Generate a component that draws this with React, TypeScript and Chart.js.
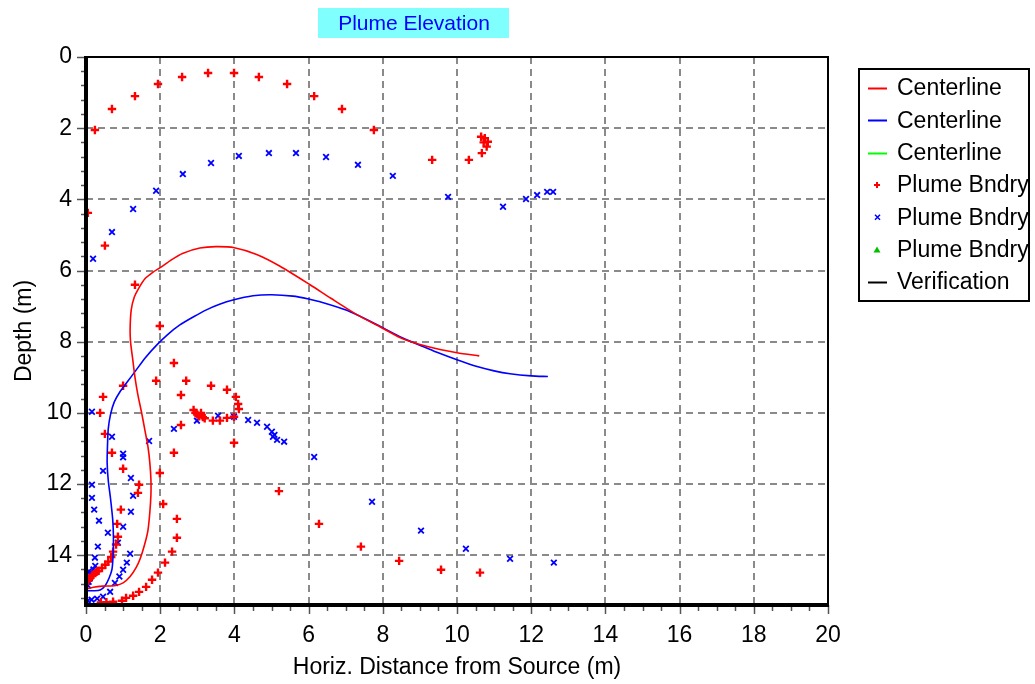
import React, { useEffect, useRef } from 'react';
import { Chart, registerables } from 'chart.js';

Chart.register(...registerables);

const FONT = "'Liberation Sans', Arial, sans-serif";

const chartTitle = 'Plume Elevation';
const xAxisTitle = 'Horiz. Distance from Source (m)';
const yAxisTitle = 'Depth (m)';

const xTickValues = [0, 2, 4, 6, 8, 10, 12, 14, 16, 18, 20];
const yTickValues = [0, 2, 4, 6, 8, 10, 12, 14];
const xRange = [0, 20];
const depthRange = [0, 15.4];

// Centerline 1 (red)
const redCenterX = [0.0, 0.2, 0.45, 0.8, 1.0, 1.19, 1.35, 1.46, 1.58, 1.67, 1.72, 1.75, 1.75, 1.72, 1.67, 1.59, 1.5, 1.4, 1.32, 1.26, 1.2, 1.19, 1.22, 1.3, 1.42, 1.6, 1.8, 2.0, 2.3, 2.6, 3.07, 3.5, 4.0, 4.6, 5.23, 6.04, 6.6, 7.3, 7.92, 8.46, 9.0, 9.54, 10.0, 10.6];
const redCenterY = [14.95, 14.9, 14.87, 14.85, 14.78, 14.6, 14.35, 14.1, 13.7, 13.3, 12.8, 12.3, 11.88, 11.4, 10.95, 10.5, 10.0, 9.5, 9.0, 8.5, 8.0, 7.6, 7.1, 6.75, 6.5, 6.22, 6.05, 5.92, 5.7, 5.52, 5.37, 5.33, 5.36, 5.55, 5.88, 6.4, 6.78, 7.24, 7.58, 7.88, 8.08, 8.22, 8.31, 8.4];

// Centerline 2 (blue)
const blueCenterX = [0.0, 0.2, 0.38, 0.52, 0.62, 0.7, 0.73, 0.74, 0.72, 0.66, 0.6, 0.57, 0.58, 0.6, 0.66, 0.76, 0.92, 1.1, 1.35, 1.6, 1.91, 2.2, 2.53, 2.9, 3.26, 3.6, 3.96, 4.5, 5.0, 5.58, 6.0, 6.31, 7.03, 7.74, 8.46, 9.0, 9.46, 10.0, 10.54, 11.0, 11.43, 12.0, 12.45];
const blueCenterY = [15.0, 15.0, 14.98, 14.85, 14.65, 14.4, 14.0, 13.5, 13.0, 12.4, 11.9, 11.4, 10.9, 10.45, 10.05, 9.7, 9.4, 9.15, 8.8, 8.45, 8.09, 7.8, 7.53, 7.3, 7.1, 6.95, 6.83, 6.71, 6.68, 6.72, 6.8, 6.88, 7.12, 7.47, 7.86, 8.1, 8.3, 8.51, 8.7, 8.82, 8.9, 8.96, 8.98];

// Plume boundary 1 (red +)
const redBndryX = [0.05, 0.24, 0.7, 1.32, 1.94, 2.59, 3.29, 3.99, 4.66, 5.42, 6.15, 6.9, 7.76, 9.33, 10.32, 10.67, 10.8, 10.83, 10.75, 10.65, 10.72,
  0.51, 1.32, 1.99, 2.37, 2.7, 1.89, 2.56, 1.0, 0.46, 0.38, 0.51, 3.37, 3.8, 4.04, 4.1, 4.12, 2.9, 2.95, 3.0, 3.05, 3.1, 3.15, 3.2, 3.42, 3.61, 3.8, 3.99, 2.56, 3.99,
  0.7, 2.37, 1.0, 1.99, 1.43, 1.4, 2.08, 0.94, 2.45, 0.84, 5.2, 6.28, 7.41, 8.44, 9.57, 10.62,
  2.45, 2.32, 2.13, 1.94, 1.78, 1.62, 1.43, 1.27, 1.08, 0.97, 0.73, 0.55, 0.4,
  0.86, 0.81, 0.73, 0.68, 0.6, 0.52, 0.43, 0.34, 0.25, 0.16, 0.1, 0.06, 0.3, 0.2];
const redBndryY = [4.38, 2.05, 1.46, 1.1, 0.76, 0.56, 0.45, 0.45, 0.56, 0.76, 1.1, 1.46, 2.05, 2.89, 2.89, 2.7, 2.52, 2.38, 2.28, 2.24, 2.4,
  5.3, 6.4, 7.56, 8.6, 9.1, 9.1, 9.5, 9.24, 9.55, 10.0, 10.59, 9.24, 9.35, 9.55, 9.75, 9.89, 9.92, 10.0, 10.05, 10.1, 10.0, 10.12, 10.15, 10.22, 10.22, 10.14, 10.11, 10.34, 10.84,
  11.12, 11.12, 11.57, 11.69, 12.02, 12.25, 12.56, 12.72, 12.98, 13.12, 12.2, 13.12, 13.76, 14.16, 14.41, 14.49,
  13.51, 13.9, 14.21, 14.49, 14.69, 14.89, 15.03, 15.14, 15.2, 15.28, 15.31, 15.32, 15.33,
  13.48, 13.7, 13.9, 14.05, 14.18, 14.27, 14.36, 14.44, 14.5, 14.58, 14.65, 14.72, 14.45, 14.55];

// Plume boundary 2 (blue x)
const blueBndryX = [0.19, 0.7, 1.27, 1.89, 2.61, 3.37, 4.12, 4.93, 5.66, 6.47, 7.33, 8.27, 9.76, 11.24, 11.86, 12.16, 12.43, 12.59,
  0.16, 2.37, 2.99, 3.56, 3.99, 4.37, 4.61, 4.88, 5.01, 5.04, 5.08, 5.15, 5.34, 1.7, 0.7, 1.0, 1.0, 0.46, 1.21, 0.16, 1.27, 0.16, 0.22, 1.21, 0.35, 1.0, 0.59, 0.86, 0.32, 1.19, 0.24, 1.1, 1.0, 0.9, 0.78, 0.65, 0.46, 0.3, 0.15, 0.05,
  0.05, 0.07, 0.1, 0.12, 0.15, 0.2, 0.25, 0.05, 0.08,
  6.15, 7.71, 9.03, 10.24, 11.43, 12.61];
const blueBndryY = [5.67, 4.92, 4.27, 3.76, 3.29, 2.98, 2.78, 2.7, 2.7, 2.81, 3.03, 3.34, 3.93, 4.21, 3.99, 3.88, 3.79, 3.79,
  9.97, 10.45, 10.22, 10.08, 10.11, 10.2, 10.28, 10.39, 10.53, 10.67, 10.62, 10.76, 10.81, 10.79, 10.67, 11.15, 11.25, 11.63, 11.83, 12.02, 12.33, 12.39, 12.72, 12.78, 13.03, 13.2, 13.37, 13.65, 13.76, 13.96, 14.07, 14.21, 14.41, 14.6, 14.78, 15.03, 15.17, 15.22, 15.25, 15.28,
  14.85, 14.75, 14.65, 14.55, 14.5, 14.4, 14.3, 14.6, 14.45,
  11.24, 12.5, 13.31, 13.82, 14.1, 14.21];

// Empty series (legend only)
const greenCenterX: number[] = [];
const greenCenterY: number[] = [];
const greenBndryX: number[] = [];
const greenBndryY: number[] = [];
const verificationX: number[] = [];
const verificationY: number[] = [];

const pts = (xs: number[], ys: number[]) => xs.map((x, i) => ({ x, y: ys[i] }));

const framePlugin = {
  id: 'framePlugin',
  beforeDatasetsDraw(chart: any) {
    const { ctx, chartArea: a, scales } = chart;
    const xs = scales.x, ys = scales.y;
    ctx.save();
    ctx.strokeStyle = '#8a8a8a';
    ctx.lineWidth = 2;
    ctx.setLineDash([7, 5]);
    for (const v of xTickValues) {
      if (v <= xRange[0] || v >= xRange[1]) continue;
      const px = Math.round(xs.getPixelForValue(v));
      ctx.beginPath();
      ctx.moveTo(px, a.top);
      ctx.lineTo(px, a.bottom);
      ctx.stroke();
    }
    for (const v of yTickValues) {
      if (v <= depthRange[0]) continue;
      const py = Math.round(ys.getPixelForValue(v));
      ctx.beginPath();
      ctx.moveTo(a.left, py);
      ctx.lineTo(a.right, py);
      ctx.stroke();
    }
    ctx.restore();
  },
  afterDatasetsDraw(chart: any) {
    const { ctx, chartArea: a, scales } = chart;
    const xs = scales.x, ys = scales.y;
    ctx.save();
    ctx.setLineDash([]);
    ctx.strokeStyle = '#555';
    ctx.lineWidth = 1.5;
    for (let v = xRange[0]; v <= xRange[1] + 1e-9; v += 0.5) {
      const px = Math.round(xs.getPixelForValue(v)) + 0.5;
      const major = Math.abs(v / 2 - Math.round(v / 2)) < 1e-6;
      ctx.beginPath();
      ctx.moveTo(px, a.bottom);
      ctx.lineTo(px, a.bottom + (major ? 9 : 6));
      ctx.stroke();
    }
    for (let v = depthRange[0]; v <= depthRange[1] + 1e-9; v += 0.4) {
      const py = Math.round(ys.getPixelForValue(v)) + 0.5;
      const major = Math.abs(v / 2 - Math.round(v / 2)) < 1e-6;
      ctx.beginPath();
      ctx.moveTo(a.left, py);
      ctx.lineTo(a.left - (major ? 9 : 5), py);
      ctx.stroke();
    }
    ctx.fillStyle = '#000';
    ctx.fillRect(a.left, a.top - 1, a.right - a.left, 2);
    ctx.fillRect(a.right - 1, a.top - 1, 2, a.bottom - a.top + 1);
    ctx.fillRect(a.left - 2, a.top - 1, 4, a.bottom - a.top + 3);
    ctx.fillRect(a.left - 2, a.bottom - 2, a.right - a.left + 3, 4);
    ctx.restore();
  },
  afterDraw(chart: any) {
    const { ctx } = chart;
    ctx.save();
    ctx.fillStyle = '#80ffff';
    ctx.fillRect(318, 8, 191, 30);
    ctx.fillStyle = '#0000ff';
    ctx.font = `21px ${FONT}`;
    ctx.textAlign = 'center';
    ctx.textBaseline = 'middle';
    ctx.fillText(chartTitle, 414, 24);

    const lx = 858, ly = 68, lw = 172, lh = 234;
    ctx.fillStyle = '#fff';
    ctx.fillRect(lx, ly, lw, lh);
    ctx.strokeStyle = '#000';
    ctx.lineWidth = 2;
    ctx.strokeRect(lx + 1, ly + 1, lw - 2, lh - 2);
    ctx.font = `23px ${FONT}`;
    ctx.textAlign = 'left';
    ctx.textBaseline = 'middle';
    chart.data.datasets.forEach((ds: any, i: number) => {
      const cy = 88 + i * 32.3;
      const color = ds.borderColor;
      const kind = ds.legendKind;
      ctx.strokeStyle = color;
      ctx.fillStyle = color;
      ctx.lineWidth = 2;
      if (kind === 'line') {
        ctx.beginPath();
        ctx.moveTo(868, Math.round(cy) + 0.5);
        ctx.lineTo(887, Math.round(cy) + 0.5);
        ctx.stroke();
      } else if (kind === 'cross') {
        ctx.beginPath();
        ctx.moveTo(874, cy); ctx.lineTo(880, cy);
        ctx.moveTo(877, cy - 3); ctx.lineTo(877, cy + 3);
        ctx.stroke();
      } else if (kind === 'crossRot') {
        ctx.lineWidth = 1.5;
        ctx.beginPath();
        ctx.moveTo(875, cy - 2.5); ctx.lineTo(880, cy + 2.5);
        ctx.moveTo(880, cy - 2.5); ctx.lineTo(875, cy + 2.5);
        ctx.stroke();
      } else if (kind === 'triangle') {
        ctx.beginPath();
        ctx.moveTo(877, cy - 3); ctx.lineTo(880.5, cy + 3); ctx.lineTo(873.5, cy + 3);
        ctx.closePath();
        ctx.fill();
      }
      ctx.fillStyle = '#000';
      ctx.fillText(ds.label, 897, cy + 1);
    });
    ctx.restore();
  },
};

export default function App() {
  const canvasRef = useRef<HTMLCanvasElement | null>(null);

  useEffect(() => {
    if (!canvasRef.current) return;
    const lineDs = (label: string, color: string, xs: number[], ys: number[]) => ({
      label,
      data: pts(xs, ys),
      borderColor: color,
      backgroundColor: color,
      borderWidth: 1.6,
      pointRadius: 0,
      showLine: true,
      tension: 0.25,
      legendKind: 'line',
    });
    const pointDs = (label: string, color: string, style: string, xs: number[], ys: number[], bw: number, r: number) => ({
      label,
      data: pts(xs, ys),
      borderColor: color,
      backgroundColor: color,
      pointStyle: style,
      pointRadius: r,
      pointBorderWidth: bw,
      showLine: false,
      legendKind: style,
    });

    const chart = new Chart(canvasRef.current, {
      type: 'scatter',
      data: {
        datasets: [
          lineDs('Centerline', '#ff0000', redCenterX, redCenterY),
          lineDs('Centerline', '#0000ff', blueCenterX, blueCenterY),
          lineDs('Centerline', '#00ff00', greenCenterX, greenCenterY),
          pointDs('Plume Bndry', '#ff0000', 'cross', redBndryX, redBndryY, 2.4, 4.2),
          pointDs('Plume Bndry', '#0000ff', 'crossRot', blueBndryX, blueBndryY, 1.8, 4),
          pointDs('Plume Bndry', '#00c000', 'triangle', greenBndryX, greenBndryY, 1, 4),
          lineDs('Verification', '#000000', verificationX, verificationY),
        ] as any,
      },
      options: {
        animation: false,
        responsive: false,
        maintainAspectRatio: false,
        devicePixelRatio: 1,
        layout: { padding: { top: 57, right: 207, left: 0, bottom: 0 } },
        plugins: {
          legend: { display: false },
          title: { display: false },
          tooltip: { enabled: false },
        },
        scales: {
          x: {
            type: 'linear',
            min: xRange[0],
            max: xRange[1],
            afterBuildTicks: (s: any) => { s.ticks = xTickValues.map((v) => ({ value: v })); },
            afterFit: (s: any) => { s.height = 79; },
            grid: { display: false, drawTicks: false, tickLength: 0 },
            border: { display: false },
            ticks: {
              color: '#000',
              font: { family: FONT, size: 23 },
              padding: 17,
              maxRotation: 0,
              autoSkip: false,
              callback: (v: any) => String(v),
            },
            title: {
              display: true,
              text: xAxisTitle,
              color: '#000',
              font: { family: FONT, size: 23 },
              padding: { top: 0, bottom: 3 },
            },
          },
          y: {
            type: 'linear',
            reverse: true,
            min: depthRange[0],
            max: depthRange[1],
            afterBuildTicks: (s: any) => { s.ticks = yTickValues.map((v) => ({ value: v })); },
            afterFit: (s: any) => { s.width = 86; },
            grid: { display: false, drawTicks: false, tickLength: 0 },
            border: { display: false },
            ticks: {
              color: '#000',
              font: { family: FONT, size: 23 },
              padding: 14,
              autoSkip: false,
              callback: (v: any) => String(v),
            },
            title: {
              display: true,
              text: yAxisTitle,
              color: '#000',
              font: { family: FONT, size: 23 },
              padding: { top: 11, bottom: 0 },
            },
          },
        },
      } as any,
      plugins: [framePlugin],
    });
    return () => chart.destroy();
  }, []);

  return (
    <div style={{ position: 'absolute', left: 0, top: 0, width: 1035, height: 684, background: '#fff' }}>
      <canvas ref={canvasRef} width={1035} height={684} style={{ width: 1035, height: 684, display: 'block' }} />
    </div>
  );
}
